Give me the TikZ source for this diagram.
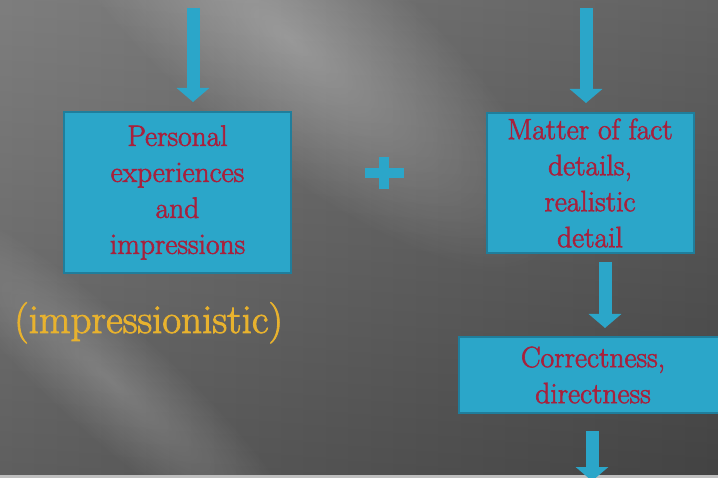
\documentclass[tikz,border=0pt]{standalone}
\usepackage{fontspec}
\usetikzlibrary{arrows.meta}
\newfontfamily\slidefont{Latin Modern Roman}[FakeBold=2]
\definecolor{boxblue}{RGB}{43,166,201}
\definecolor{boxedge}{RGB}{31,126,156}
\definecolor{boxtext}{RGB}{168,32,60}
\definecolor{gold}{RGB}{232,178,46}
\definecolor{bgleft}{RGB}{108,108,108}
\definecolor{bgright}{RGB}{76,76,76}

\begin{document}
\begin{tikzpicture}[x=1pt,y=-1pt,
    box/.style={draw=boxedge,line width=2pt,fill=boxblue,text=boxtext,align=center,inner sep=0pt,
                font=\slidefont\fontsize{29.5}{36}\selectfont},
    flow/.style={draw=boxblue,line width=13pt,-{Triangle[width=32pt,length=14pt]}},
    streak/.style={inner color=black!72,outer color=black,blend mode=screen}]
\useasboundingbox (0,0) rectangle (718,478);
\clip (0,0) rectangle (718,478);
% background with light streaks
\shade[left color=bgleft,right color=bgright] (0,0) rectangle (718,478);
\shade[top color=white,bottom color=black,opacity=0.12] (0,0) rectangle (718,478);
\begin{scope}[transform canvas={shift={(290,40)},rotate=-40}]
  \shade[streak] (0,0) ellipse [x radius=330,y radius=110];
\end{scope}
\begin{scope}[transform canvas={shift={(110,380)},rotate=-42}]
  \shade[streak,inner color=black!82] (0,0) ellipse [x radius=260,y radius=55];
\end{scope}
\fill[gray!50] (0,475) rectangle (718,478);

% boxes
\node[box,minimum width=227pt,minimum height=161pt] (personal) at (177.5,192.5) {Personal\\experiences\\and\\impressions};
\node[box,minimum width=207pt,minimum height=140pt] (matter) at (590,183) {Matter of fact\\details,\\realistic\\detail};
\node[box,minimum width=268pt,minimum height=76pt] (correct) at (593,375) {Correctness,\\directness};
\node[text=gold,font=\slidefont\fontsize{41}{48}\selectfont,anchor=base west,inner sep=0pt] (impr) at (14,333) {(impressionistic)};

% plus sign
\fill[boxblue] (365,168) rectangle (404,178);
\fill[boxblue] (379,157) rectangle (389,189);

% arrows
\coordinate (in1) at (193,8);
\coordinate (in2) at (586,8);
\coordinate (mid) at (605,0);
\coordinate (out) at (592,481);
\draw[flow,shorten >=9pt] (in1) -- (in1 |- personal.north);
\draw[flow,shorten >=9pt] (in2) -- (in2 |- matter.north);
\draw[flow,shorten <=8pt,shorten >=8pt] (mid |- matter.south) -- (mid |- correct.north);
\draw[flow,shorten <=17pt] (out |- correct.south) -- (out);
\end{tikzpicture}
\end{document}
